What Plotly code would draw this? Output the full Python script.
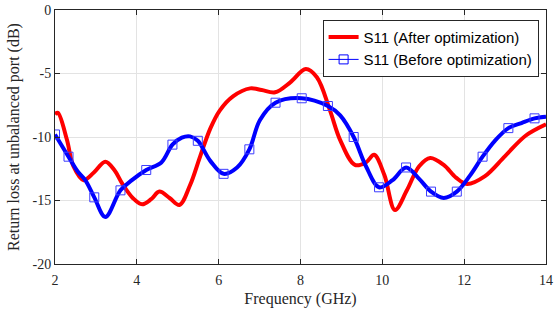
import plotly.graph_objects as go

# After optimization (red)
after_freq = [2.0, 2.07, 2.29, 2.45, 2.7, 2.95, 3.23, 3.45, 3.64, 3.9, 4.13, 4.35, 4.55, 4.8, 5.04,
              5.3, 5.55, 5.8, 6.03, 6.35, 6.77, 7.05, 7.38, 7.75, 8.13, 8.4, 8.72, 8.97, 9.33, 9.6,
              9.8, 10.05, 10.31, 10.6, 10.9, 11.17, 11.5, 11.8, 12.07, 12.5, 13.0, 13.5, 14.0]
after_s11 = [-8.2, -8.1, -10.2, -12.3, -13.4, -12.8, -11.95, -12.6, -13.65, -14.8, -15.3, -14.9, -14.3, -14.8, -15.35,
             -13.8, -11.5, -9.3, -7.9, -6.8, -6.17, -6.3, -6.48, -5.7, -4.65, -5.3, -7.9, -10.24, -12.2, -12.0,
             -11.4, -13.0, -15.75, -14.2, -12.3, -11.65, -12.2, -13.2, -13.7, -13.1, -11.5, -9.9, -9.0]

# Before optimization (blue)
before_freq = [2.0, 2.33, 2.55, 2.74, 2.96, 3.23, 3.6, 3.88, 4.23, 4.6, 4.87, 5.1, 5.3, 5.49, 5.8,
               6.12, 6.45, 6.75, 7.01, 7.39, 8.03, 8.67, 8.97, 9.3, 9.6, 9.92, 10.25, 10.58, 10.9, 11.19,
               11.5, 11.82, 12.15, 12.45, 12.75, 13.08, 13.4, 13.72, 14.0]
before_s11 = [-9.8, -11.55, -12.7, -13.4, -14.75, -16.3, -14.2, -13.4, -12.6, -12.0, -10.6, -10.05, -9.95, -10.3, -11.9,
              -12.9, -12.4, -10.97, -8.66, -7.3, -6.95, -7.56, -8.3, -10.0, -12.3, -13.96, -13.4, -12.4, -13.3, -14.3,
              -14.8, -14.3, -13.0, -11.55, -10.3, -9.3, -8.9, -8.53, -8.4]
# indices of before-series points that carry square markers
marker_idx = [0, 1, 4, 6, 8, 10, 13, 15, 17, 19, 20, 21, 23, 25, 27, 29, 31, 33, 35, 37]

x_ticks = [2, 4, 6, 8, 10, 12, 14]
y_ticks = [0, -5, -10, -15, -20]
x_title = "Frequency (GHz)"
y_title = "Return loss at unbalanced port (dB)"

RED = "rgb(255,0,0)"
BLUE = "rgb(0,0,255)"
TXT = "#262626"

fig = go.Figure()
fig.add_trace(go.Scatter(x=after_freq, y=after_s11, mode="lines", name="S11 (After optimization)",
                         line=dict(color=RED, width=4, shape="spline", smoothing=1.0)))
fig.add_trace(go.Scatter(x=before_freq, y=before_s11, mode="lines", showlegend=False,
                         line=dict(color=BLUE, width=4, shape="spline", smoothing=1.0)))
fig.add_trace(go.Scatter(x=[before_freq[i] for i in marker_idx], y=[before_s11[i] for i in marker_idx],
                         mode="markers", showlegend=False,
                         marker=dict(symbol="square-open", size=9, color="rgb(60,60,255)",
                                     line=dict(width=1, color="rgb(60,60,255)"))))
fig.add_trace(go.Scatter(x=[None], y=[None], mode="lines+markers", name="S11 (Before optimization)",
                         line=dict(color=BLUE, width=1),
                         marker=dict(symbol="square-open", size=9, color=BLUE,
                                     line=dict(width=1, color=BLUE))))

axis_common = dict(showline=True, linecolor=TXT, linewidth=1, mirror="ticks",
                   ticks="inside", ticklen=5, tickcolor=TXT, automargin=False,
                   showgrid=True, gridcolor="#e3e3e3", gridwidth=1, zeroline=False,
                   tickfont=dict(family="Liberation Serif", size=14, color=TXT))

fig.update_xaxes(range=[2, 14], tickvals=x_ticks, ticktext=[str(v) for v in x_ticks],
                 ticklabelstandoff=3,
                 title=dict(text=x_title, font=dict(family="Liberation Serif", size=16, color=TXT),
                            standoff=6), **axis_common)
fig.update_yaxes(range=[-20, 0], tickvals=y_ticks, ticktext=[str(v) for v in y_ticks],
                 **axis_common)

fig.add_annotation(text=y_title, xref="paper", yref="paper", x=0, y=0.5, xshift=-41,
                   xanchor="center", yanchor="middle", textangle=-90, showarrow=False,
                   font=dict(family="Liberation Serif", size=16, color=TXT))

fig.update_layout(
    width=554, height=311,
    margin=dict(l=55, r=8, t=10, b=47),
    paper_bgcolor="white", plot_bgcolor="white",
    showlegend=True,
    legend=dict(x=0.545, y=0.962, xanchor="left", yanchor="top",
                bgcolor="white", bordercolor=TXT, borderwidth=1,
                font=dict(family="Liberation Sans", size=15, color="black"),
                itemwidth=30, tracegroupgap=0),
)

fig.write_html("out.html", config={"displayModeBar": False},
               post_script="document.body.style.margin='0';")
